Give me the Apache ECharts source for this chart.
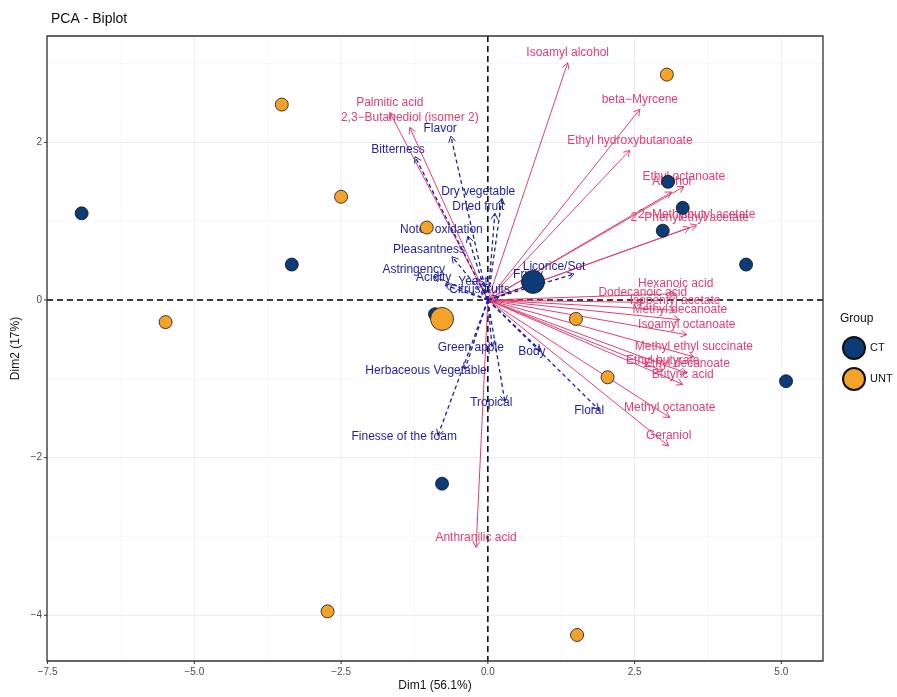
<!DOCTYPE html>
<html><head><meta charset="utf-8">
<script src="https://cdn.jsdelivr.net/npm/echarts@6/dist/echarts.min.js"></script>
<style>html,body{margin:0;padding:0;background:#fff;overflow:hidden}#c{width:897px;height:697px}</style>
</head><body><div id="c"></div>
<script>
// ---- axis ranges & ticks ----
const xMin = -7.51, xMax = 5.71, yMin = -4.58, yMax = 3.35;
const xMajorTicks = [-7.5, -5, -2.5, 0, 2.5, 5];
const xTickLabels = ['\u22127.5', '\u22125.0', '\u22122.5', '0.0', '2.5', '5.0'];
const xMinorTicks = [-6.25, -3.75, -1.25, 1.25, 3.75];
const yMajorTicks = [-4, -2, 0, 2];
const yTickLabels = ['\u22124', '\u22122', '0', '2'];
const yMinorTicks = [-3, -1, 1, 3];

// ---- individuals ----
const ctX = [-6.92, -3.34, 3.07, 3.32, 2.98, 4.40, 5.08, -0.78, -0.90];
const ctY = [1.10, 0.45, 1.50, 1.17, 0.88, 0.45, -1.03, -2.33, -0.18];
const untX = [-3.51, 3.05, -2.50, -1.04, -5.49, 1.50, 2.04, -2.73, 1.52];
const untY = [2.48, 2.86, 1.31, 0.92, -0.28, -0.24, -0.98, -3.95, -4.25];
const ctCentroid = [0.77, 0.23];
const untCentroid = [-0.78, -0.24];

// ---- active variables (chemical compounds) ----
const chemNames = ['Isoamyl alcohol', 'beta\u2212Myrcene', 'Ethyl hydroxybutanoate', 'Ethyl octanoate', 'Alcohol',
  '2\u2212Phenylethyl acetate', '2\u2212Methylbutyl acetate', 'Hexanoic acid', 'Dodecanoic acid', 'Isopentyl acetate',
  'Methyl decanoate', 'Isoamyl octanoate', 'Methyl ethyl succinate', 'Ethyl butyrate', 'Ethyl decanoate',
  'Butyric acid', 'Methyl octanoate', 'Geraniol', 'Palmitic acid', '2,3\u2212Butanediol (isomer 2)', 'Anthranilic acid'];
const chemX = [1.36, 2.59, 2.42, 3.34, 3.13, 3.44, 3.56, 3.20, 2.64, 3.19, 3.27, 3.39, 3.51, 2.98, 3.39, 3.32, 3.10, 3.08, -1.67, -1.33, -0.20];
const chemY = [3.01, 2.42, 1.90, 1.44, 1.37, 0.92, 0.95, 0.08, -0.03, -0.13, -0.25, -0.44, -0.72, -0.90, -0.93, -1.07, -1.49, -1.85, 2.38, 2.19, -3.14];

// ---- supplementary variables (sensory) ----
const sensNames = ['Flavor', 'Bitterness', 'Dry vegetable', 'Dried fruit', 'Notes oxidation', 'Pleasantness',
  'Astringency', 'Acidity', 'Yeast', 'Citrus fruits', 'Licorice/Sot', 'Fruity', 'Green apple', 'Body',
  'Herbaceous Vegetable', 'Tropical', 'Finesse of the foam', 'Floral'];
const sensX = [-0.63, -1.24, 0.24, 0.12, -0.34, -0.61, -0.92, -0.73, -0.09, 0.19, 1.47, 0.85, 0.07, 0.90, -0.39, 0.29, -0.85, 1.89];
const sensY = [2.08, 1.82, 1.29, 1.10, 0.81, 0.55, 0.30, 0.19, 0.15, 0.04, 0.33, 0.23, -0.59, -0.64, -0.88, -1.29, -1.72, -1.39];

const FONT = '"Liberation Sans", Arial, sans-serif';
const RED = '#E0406F';
const BLUE = '#1F1F9E';
const NAVY = '#0C3C78';
const ORANGE = '#F4A32A';

const measureCtx = document.createElement('canvas').getContext('2d');
measureCtx.font = '12px ' + FONT;
function textW(t) { return measureCtx.measureText(t).width; }

function frameRender(params, api) {
  const ch = [];
  const tl = api.coord([xMin, yMax]);
  const br = api.coord([xMax, yMin]);
  const L = tl[0], T = tl[1], R = br[0], B = br[1];
  xMinorTicks.forEach(v => { const px = api.coord([v, 0])[0];
    ch.push({type: 'line', shape: {x1: px, y1: T, x2: px, y2: B}, style: {stroke: '#F1F1F1', lineWidth: 0.6}}); });
  yMinorTicks.forEach(v => { const py = api.coord([0, v])[1];
    ch.push({type: 'line', shape: {x1: L, y1: py, x2: R, y2: py}, style: {stroke: '#F1F1F1', lineWidth: 0.6}}); });
  xMajorTicks.forEach((v, i) => { const px = api.coord([v, 0])[0];
    ch.push({type: 'line', shape: {x1: px, y1: T, x2: px, y2: B}, style: {stroke: '#EBEBEB', lineWidth: 1}});
    ch.push({type: 'line', shape: {x1: px, y1: B, x2: px, y2: B + 3}, style: {stroke: '#333', lineWidth: 1}});
    ch.push({type: 'text', x: px, y: B + 6, style: {text: xTickLabels[i], fill: '#4D4D4D', font: '10px ' + FONT, align: 'center', verticalAlign: 'top'}}); });
  yMajorTicks.forEach((v, i) => { const py = api.coord([0, v])[1];
    ch.push({type: 'line', shape: {x1: L, y1: py, x2: R, y2: py}, style: {stroke: '#EBEBEB', lineWidth: 1}});
    ch.push({type: 'line', shape: {x1: L - 3, y1: py, x2: L, y2: py}, style: {stroke: '#333', lineWidth: 1}});
    ch.push({type: 'text', x: L - 5, y: py, style: {text: yTickLabels[i], fill: '#4D4D4D', font: '10px ' + FONT, align: 'right', verticalAlign: 'middle'}}); });
  const o = api.coord([0, 0]);
  ch.push({type: 'line', shape: {x1: o[0], y1: T, x2: o[0], y2: B}, style: {stroke: '#000', lineWidth: 1.5, lineDash: [6, 4]}});
  ch.push({type: 'line', shape: {x1: L, y1: o[1], x2: R, y2: o[1]}, style: {stroke: '#000', lineWidth: 1.5, lineDash: [6, 4]}});
  ch.push({type: 'rect', shape: {x: L, y: T, width: R - L, height: B - T}, style: {stroke: '#333', fill: null, lineWidth: 1.3}});
  return {type: 'group', children: ch};
}

function arrowRender(names, color, dashed) {
  return function (params, api) {
    const x = api.value(0), y = api.value(1);
    const p0 = api.coord([0, 0]), p1 = api.coord([x, y]);
    const a = Math.atan2(p1[1] - p0[1], p1[0] - p0[0]);
    const hl = 7, ha = Math.PI / 6;
    const h1 = [p1[0] - hl * Math.cos(a - ha), p1[1] - hl * Math.sin(a - ha)];
    const h2 = [p1[0] - hl * Math.cos(a + ha), p1[1] - hl * Math.sin(a + ha)];
    const name = names[params.dataIndex];
    let lx, ly;
    if (dashed) {
      lx = p1[0] - 0.32 * textW(name);
      ly = y > 0 ? p1[1] - 7 : p1[1] + 1;
    } else {
      lx = p1[0]; ly = p1[1] - 10;
    }
    return {type: 'group', children: [
      {type: 'line', shape: {x1: p0[0], y1: p0[1], x2: p1[0], y2: p1[1]},
        style: {stroke: color, lineWidth: dashed ? 1.3 : 1, lineDash: dashed ? [4, 3] : null}},
      {type: 'polyline', shape: {points: [h1, p1, h2]}, style: {stroke: color, fill: null, lineWidth: 1}},
      {type: 'text', x: lx, y: ly, style: {text: name, fill: color, font: '12px ' + FONT, align: 'center', verticalAlign: 'middle'}}
    ]};
  };
}

const ctData = ctX.map((v, i) => [v, ctY[i]]);
ctData.push({value: ctCentroid, symbolSize: 23});
const untData = untX.map((v, i) => [v, untY[i]]);
untData.push({value: untCentroid, symbolSize: 23});

const chart = echarts.init(document.getElementById('c'));
chart.setOption({
  animation: false,
  title: {text: 'PCA - Biplot', left: 46, top: 7, textStyle: {fontSize: 14, fontWeight: 'normal', color: '#111', fontFamily: FONT}},
  grid: {left: 47, right: 74, top: 36, bottom: 27},
  xAxis: {type: 'value', min: xMin, max: xMax, name: 'Dim1 (56.1%)', nameLocation: 'middle', nameGap: 19,
    nameTextStyle: {fontSize: 12, color: '#111', fontFamily: FONT},
    axisLine: {show: false}, axisTick: {show: false}, axisLabel: {show: false}, splitLine: {show: false}},
  yAxis: {type: 'value', min: yMin, max: yMax, name: 'Dim2 (17%)', nameLocation: 'middle', nameGap: 25,
    nameTextStyle: {fontSize: 12, color: '#111', fontFamily: FONT},
    axisLine: {show: false}, axisTick: {show: false}, axisLabel: {show: false}, splitLine: {show: false}},
  legend: {orient: 'vertical', left: 837, top: 331, itemWidth: 22, itemHeight: 22, itemGap: 7, icon: 'circle',
    data: ['CT', 'UNT'], textStyle: {fontSize: 11, color: '#111', fontFamily: FONT}},
  graphic: [{type: 'text', left: 840, top: 313, style: {text: 'Group', fill: '#111', font: '12px ' + FONT}}],
  series: [
    {type: 'custom', name: 'frame', silent: true, clip: false, z: 1, data: [[0, 0]], renderItem: frameRender},
    {type: 'custom', name: 'chem', silent: true, clip: false, z: 2, data: chemX.map((v, i) => [v, chemY[i]]), renderItem: arrowRender(chemNames, RED, false)},
    {type: 'custom', name: 'sens', silent: true, clip: false, z: 2, data: sensX.map((v, i) => [v, sensY[i]]), renderItem: arrowRender(sensNames, BLUE, true)},
    {type: 'scatter', name: 'CT', z: 3, symbolSize: 13, data: ctData, itemStyle: {color: NAVY, borderColor: '#111', borderWidth: 0.8, opacity: 1}},
    {type: 'scatter', name: 'UNT', z: 3, symbolSize: 13, data: untData, itemStyle: {color: ORANGE, borderColor: '#111', borderWidth: 0.8, opacity: 1}}
  ]
});
</script></body></html>
